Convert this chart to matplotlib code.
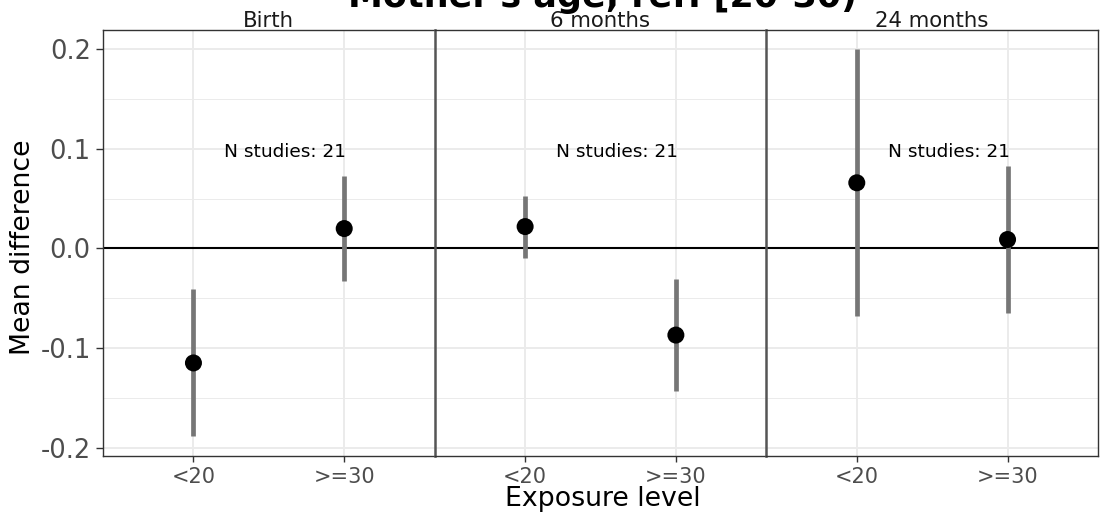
import matplotlib
matplotlib.use("Agg")
import matplotlib.pyplot as plt
from matplotlib.ticker import MultipleLocator

facets = ["Birth", "6 months", "24 months"]
categories = ["<20", ">=30"]
estimates = [[-0.115, 0.020], [0.022, -0.087], [0.066, 0.009]]
ci_low = [[-0.188, -0.033], [-0.010, -0.143], [-0.068, -0.065]]
ci_high = [[-0.041, 0.073], [0.053, -0.031], [0.200, 0.083]]
n_studies = [21, 21, 21]
yticks = [-0.2, -0.1, 0.0, 0.1, 0.2]
ytick_labels = ["-0.2", "-0.1", "0.0", "0.1", "0.2"]

W, H = 1100, 519
fig = plt.figure(figsize=(W / 100, H / 100), dpi=100)
left, right = 103 / W, 1098 / W
bottom, top = 1 - 456 / H, 1 - 30 / H
w = (right - left) / 3
axes = [fig.add_axes([left + i * w, bottom, w, top - bottom]) for i in range(3)]

frame_col = "#333333"
for i, ax in enumerate(axes):
    xs = list(range(1, len(categories) + 1))
    ax.set_xlim(0.4, 2.6)
    ax.set_ylim(-0.2085, 0.2195)
    ax.set_yticks(yticks)
    ax.yaxis.set_minor_locator(MultipleLocator(0.05))
    ax.set_xticks(xs)
    ax.set_xticklabels(categories)
    ax.grid(which="major", color="#ebebeb", lw=1.4, zorder=0)
    ax.grid(which="minor", axis="y", color="#ebebeb", lw=0.7, zorder=0)
    ax.set_axisbelow(True)
    ax.axhline(0, color="black", lw=1.5, zorder=2)
    ax.vlines(xs, ci_low[i], ci_high[i], color="#767676", lw=3.4, zorder=3)
    ax.scatter(xs, estimates[i], s=150, color="black", zorder=4, edgecolors="none")
    ax.text(1.61, 0.0923, f"N studies: {n_studies[i]}", ha="center", va="baseline",
            fontsize=13.3, color="black")
    ax.text(1.5, 0.2195 + 0.0033, facets[i], ha="center", va="baseline",
            fontsize=15.3, color="#1a1a1a", transform=ax.transData, clip_on=False)
    for s in ax.spines.values():
        s.set_color(frame_col)
        s.set_linewidth(1.0)
    ax.tick_params(axis="x", which="major", length=4.3, width=1.0, color=frame_col,
                   labelsize=15, labelcolor="#4d4d4d", pad=3.6)
    ax.tick_params(axis="y", which="major", length=5.4, width=1.0, color=frame_col,
                   labelsize=18.5, labelcolor="#4d4d4d", pad=3.4)
    ax.tick_params(axis="y", which="minor", length=0)
    if i > 0:
        ax.tick_params(axis="y", which="both", left=False, labelleft=False)
        ax.spines["left"].set_linewidth(1.8)
        ax.spines["left"].set_color("#555555")
    else:
        ax.set_yticklabels(ytick_labels)
    if i < 2:
        ax.spines["right"].set_visible(False)

fig.text(23 / W, 1 - 247.5 / H, "Mean difference", rotation=90, ha="center",
         va="center", fontsize=19.3, color="black")
fig.text(603 / W, 1 - 506.5 / H, "Exposure level", ha="center",
         va="baseline", fontsize=19.3, color="black")
fig.text(603 / W, 1 - 6.5 / H, "Mother's age, ref: [20-30)", ha="center",
         va="baseline", fontsize=25.2, fontweight="bold", color="black")

fig.savefig("out.png", dpi=100)
